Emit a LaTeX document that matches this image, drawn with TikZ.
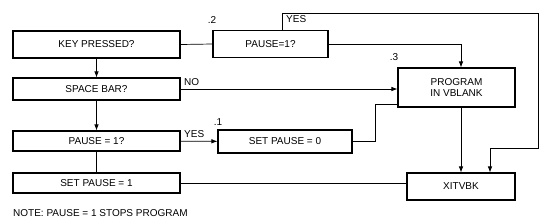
\documentclass[tikz,border=0pt]{standalone}
\usepackage{fontspec}
\setmainfont{Liberation Sans}
\usetikzlibrary{arrows.meta}
\tikzset{
  caja/.style={draw, line width=1.1pt, inner sep=0pt, font=\fontsize{10}{11.5}\selectfont},
  linea/.style={line width=0.7pt},
  etiq/.style={font=\fontsize{10}{11.5}\selectfont, inner sep=0pt}
}
\begin{document}
\begin{tikzpicture}[x=1pt, y=-1pt, >={Latex[length=6pt,width=4.5pt]}]
  \useasboundingbox (0,0) rectangle (546,223);
  % Cajas
  \node[caja, minimum width=167pt, minimum height=27pt] (key) at (96.5,44.5) {KEY PRESSED?};
  \node[caja, minimum width=167pt, minimum height=22pt] (space) at (96.5,89) {SPACE BAR?};
  \node[caja, minimum width=167pt, minimum height=20pt] (pq) at (96.5,141) {PAUSE = 1?};
  \node[caja, minimum width=167pt, minimum height=20pt] (setone) at (96.5,183) {SET PAUSE = 1};
  \node[caja, minimum width=115pt, minimum height=27pt] (pausetwo) at (270.5,44) {PAUSE=1?};
  \node[caja, minimum width=117pt, minimum height=39pt, align=center] (prog) at (456.5,87.5) {PROGRAM\\IN VBLANK};
  \node[caja, minimum width=134pt, minimum height=23pt] (setzero) at (285,141.5) {SET PAUSE = 0};
  \node[caja, minimum width=108pt, minimum height=27pt] (xit) at (461,186.5) {XITVBK};

  % Lineas
  \draw[linea, ->] (key) -- (space);
  \draw[linea, ->] (space) -- (pq);
  \draw[linea] (pq) -- (setone);
  \draw[linea] (key.east) -- (pausetwo.west);
  \draw[linea, ->] (pausetwo.east) -| (xit.north |- prog.north);
  \draw[linea, ->] (space.east) -- (prog.west |- space.east);
  \draw[linea, ->] (pq) -- (setzero);
  \coordinate (c3) at (375,104);
  \draw[linea] (setzero.east) -| (c3) -- (prog.west |- c3);
  \draw[linea, ->] (xit.north |- prog.south) -- (xit.north);
  \draw[linea] (setone.east) -- (xit.west |- setone.east);
  \coordinate (c1) at (538,13);
  \coordinate (c2) at (538,148);
  \draw[linea, ->] ([xshift=70pt]pausetwo.north west) |- (c1) -- (c2) -| ([xshift=29pt]xit.north);

  % Etiquetas
  \node[etiq, anchor=south west] (lyes) at (286,23) {YES};
  \node[etiq, anchor=south west] (lno) at (184,86) {NO};
  \node[etiq, anchor=south west] (lyesb) at (184,138) {YES};
  \node[etiq] (ldos) at (212,20) {.2};
  \node[etiq] (ltres) at (394,57) {.3};
  \node[etiq] (luno) at (218,122) {.1};
  \node[etiq, anchor=west] (nota) at (13,213) {NOTE: PAUSE = 1 STOPS PROGRAM};
\end{tikzpicture}
\end{document}
